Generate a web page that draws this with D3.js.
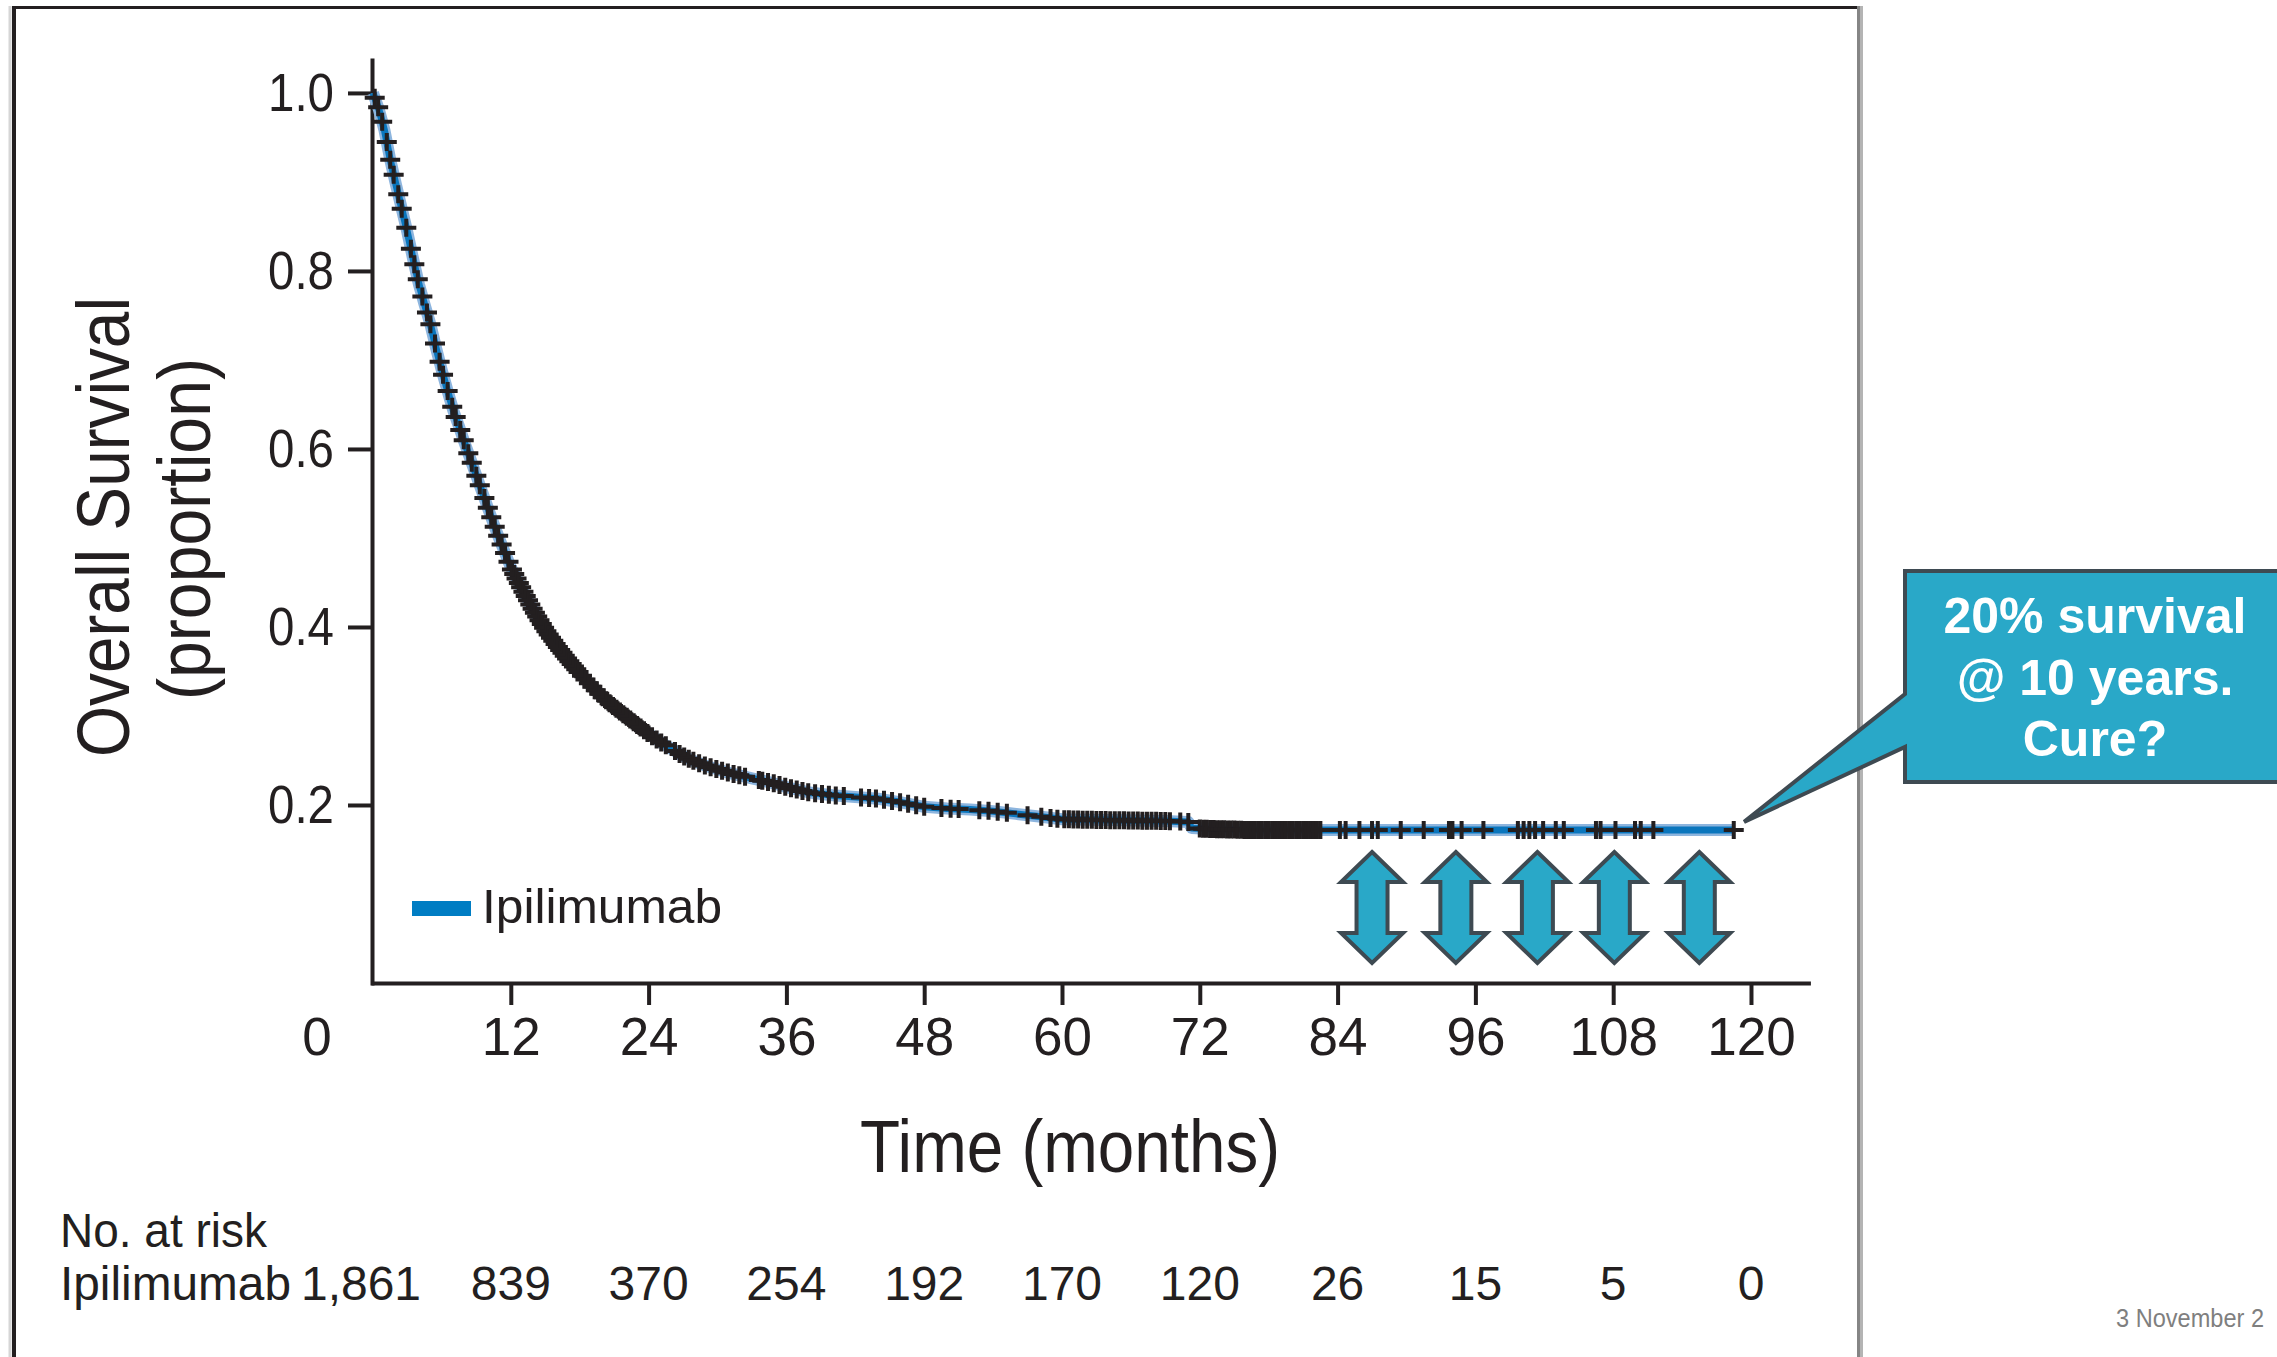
<!DOCTYPE html>
<html>
<head>
<meta charset="utf-8">
<script src="https://cdn.jsdelivr.net/npm/d3@7"></script>
<style>
  html, body { margin: 0; padding: 0; background: #ffffff; overflow: hidden; }
  svg { display: block; font-family: "Liberation Sans", Arial, Helvetica, sans-serif; }
</style>
</head>
<body>
<svg id="chart" width="2277" height="1357"></svg>
<script>
// ---------------- DATA ----------------
// Kaplan-Meier curve (months, proportion surviving)
const curveTimes = [0, 0.5, 1.0, 1.5, 2.0, 2.5, 3.0, 3.5, 4.0, 4.5, 5.0, 5.5, 6.0, 6.5, 7.0, 7.5, 8.0, 8.5, 9.0, 9.5,
  10.0, 10.5, 11.0, 11.5, 12.0, 13.0, 14.0, 15.0, 16.0, 17.0, 18.0, 19.0, 20.0, 21.0, 22.0, 23.0, 24.0, 25.0, 26.0,
  27.0, 28.0, 29.0, 30.0, 31.0, 32.0, 33.0, 34.0, 35.0, 36.0, 38.0, 40.0, 42.0, 44.0, 46.0, 48.0, 50.0, 52.0, 54.0,
  56.0, 58.0, 60.0, 64.0, 69.0, 71.0, 71.3, 73.0, 76.0, 118.5];
const curveSurv = [1.000, 0.982, 0.958, 0.925, 0.897, 0.870, 0.843, 0.813, 0.785, 0.762, 0.740, 0.713, 0.688, 0.665,
  0.643, 0.625, 0.606, 0.588, 0.570, 0.552, 0.534, 0.516, 0.499, 0.483, 0.467, 0.442, 0.418, 0.397, 0.379, 0.363,
  0.348, 0.334, 0.321, 0.310, 0.300, 0.290, 0.280, 0.271, 0.263, 0.255, 0.249, 0.244, 0.240, 0.236, 0.233, 0.230,
  0.227, 0.224, 0.220, 0.214, 0.211, 0.209, 0.207, 0.203, 0.198, 0.196, 0.195, 0.193, 0.190, 0.187, 0.184, 0.183,
  0.182, 0.181, 0.174, 0.173, 0.172, 0.172];

// Censoring times (months), read from the "+" marks along the curve
const censorTimes = [
  0.15, 0.45, 0.8, 1.2, 1.5, 1.8, 2.2, 2.5, 2.9, 3.3, 3.6, 3.9, 4.3, 4.7, 5.0, 5.4, 5.8, 6.1, 6.5, 6.9, 7.2, 7.6,
  7.9, 8.3, 8.6, 9.0, 9.3, 9.7, 10.0, 10.3, 10.6, 10.9, 11.2, 11.5, 11.8,
  12.1, 12.3, 12.5, 12.7, 12.9, 13.1, 13.3, 13.5, 13.7, 13.9, 14.1, 14.3, 14.5, 14.7, 14.9, 15.1, 15.3, 15.5,
  15.7, 15.9, 16.1, 16.3, 16.5, 16.7, 16.9, 17.1, 17.3, 17.5, 17.7, 17.9, 18.2, 18.5, 18.8, 19.1, 19.4, 19.7,
  20.0, 20.3, 20.6, 20.9, 21.2, 21.5, 21.8, 22.1, 22.4, 22.7, 23.0, 23.3, 23.6, 23.9, 24.3, 24.7, 25.1, 25.5,
  26.3, 26.7, 27.1, 27.5, 27.9, 28.4, 28.9, 29.4, 29.9, 30.4, 30.9, 31.4, 31.9, 32.4, 33.6, 33.9, 34.4, 34.9,
  35.4, 35.9,
  36.4, 36.9, 37.4, 37.9, 38.5, 39.1, 39.7, 40.3, 41.0, 42.5, 43.2, 43.8, 44.5, 45.2, 45.9, 46.6, 47.3, 48.0,
  49.5, 50.3, 51.0, 52.8, 53.6, 54.4, 55.2, 57.0, 58.2, 59.0, 59.6,
  60.2, 60.6, 61.0, 61.4, 61.8, 62.2, 62.6, 63.0, 63.4, 63.8, 64.2, 64.6, 65.0, 65.4, 65.8, 66.2, 66.6, 67.0,
  67.4, 67.8, 68.2, 68.6, 69.0, 69.4, 70.3, 71.0,
  72.0, 72.3, 72.6, 72.9, 73.2, 73.5, 73.8, 74.1, 74.4, 74.7, 75.0, 75.3, 75.6, 75.9, 76.2, 76.5, 76.8, 77.1,
  77.4, 77.7, 78.0, 78.3, 78.6, 78.9, 79.2, 79.5, 79.8, 80.1, 80.4, 80.7, 81.0, 81.3, 81.6, 81.9, 82.2, 82.5,
  84.2, 84.7, 85.9, 87.0, 87.5, 89.5, 91.5, 93.7, 94.0, 94.8, 96.7, 99.7, 100.2, 100.7, 101.2, 101.9, 103.0,
  103.7, 106.5, 106.9, 108.2, 109.9, 110.4, 111.5, 118.5];

const xTickValues = [12, 24, 36, 48, 60, 72, 84, 96, 108, 120];
const yTickValues = [0.2, 0.4, 0.6, 0.8, 1.0];
const riskMonths = [0, 12, 24, 36, 48, 60, 72, 84, 96, 108, 120];
const riskCounts = ["1,861", "839", "370", "254", "192", "170", "120", "26", "15", "5", "0"];
const seriesName = "Ipilimumab";
const arrowMonths = [87.0, 94.3, 101.4, 108.1, 115.5];
const calloutLines = ["20% survival", "@ 10 years.", "Cure?"];
const calloutTip = [119.4, 0.181];

// ---------------- CHART ----------------
const ink = "#231f20";
const svg = d3.select("#chart");

const x = d3.scaleLinear().domain([0, 125]).range([373, 1808.4]);
const y = d3.scaleLinear().domain([0, 1.037]).range([983, 60]);

function survAt(t) {
  const i = d3.bisectRight(curveTimes, t);
  if (i <= 0) return curveSurv[0];
  if (i >= curveTimes.length) return curveSurv[curveSurv.length - 1];
  const t0 = curveTimes[i - 1], t1 = curveTimes[i];
  const f = (t - t0) / (t1 - t0);
  return curveSurv[i - 1] + f * (curveSurv[i] - curveSurv[i - 1]);
}

// Frame of the slide image
svg.append("line").attr("x1", 10).attr("x2", 10).attr("y1", 6).attr("y2", 1357)
  .attr("stroke", "#d6d6d6").attr("stroke-width", 3);
svg.append("line").attr("x1", 14).attr("x2", 14).attr("y1", 6).attr("y2", 1357)
  .attr("stroke", ink).attr("stroke-width", 4);
svg.append("line").attr("x1", 12).attr("x2", 1860).attr("y1", 7.5).attr("y2", 7.5)
  .attr("stroke", ink).attr("stroke-width", 3);
svg.append("line").attr("x1", 1858.5).attr("x2", 1858.5).attr("y1", 6).attr("y2", 1357)
  .attr("stroke", "#858585").attr("stroke-width", 3);
svg.append("line").attr("x1", 1861.5).attr("x2", 1861.5).attr("y1", 6).attr("y2", 1357)
  .attr("stroke", "#b4b4b4").attr("stroke-width", 3);

// Axes
const yAxis = d3.axisLeft(y).tickValues(yTickValues).tickFormat(d3.format(".1f"))
  .tickSize(24).tickSizeOuter(0).tickPadding(14);
const gy = svg.append("g").attr("transform", "translate(372,0)").call(yAxis);
gy.select(".domain").attr("stroke", ink).attr("stroke-width", 4).attr("stroke-linecap", "square");
gy.selectAll(".tick line").attr("stroke", ink).attr("stroke-width", 4);
gy.selectAll(".tick text").attr("fill", ink).attr("font-size", 54)
  .attr("font-family", "'Liberation Sans', Arial, sans-serif").attr("dy", "0.33em")
  .attr("textLength", 66).attr("lengthAdjust", "spacingAndGlyphs");

const xAxis = d3.axisBottom(x).tickValues(xTickValues).tickSize(22).tickSizeOuter(0);
const gx = svg.append("g").attr("transform", "translate(0,983)").call(xAxis);
gx.select(".domain").attr("stroke", ink).attr("stroke-width", 4).attr("stroke-linecap", "square");
gx.selectAll(".tick line").attr("stroke", ink).attr("stroke-width", 4);
gx.selectAll(".tick text").attr("fill", ink).attr("font-size", 53)
  .attr("font-family", "'Liberation Sans', Arial, sans-serif").attr("y", 72).attr("dy", 0);

// "0" label at the origin (no tick mark)
svg.append("text").attr("x", x(0) - 56).attr("y", 1055).attr("text-anchor", "middle")
  .attr("font-size", 53).attr("fill", ink).text("0");

// Axis titles
svg.append("text").attr("x", 1070).attr("y", 1172).attr("text-anchor", "middle")
  .attr("font-size", 75).attr("fill", ink)
  .attr("textLength", 420).attr("lengthAdjust", "spacingAndGlyphs").text("Time (months)");
svg.append("text").attr("transform", "translate(129,527) rotate(-90)").attr("text-anchor", "middle")
  .attr("font-size", 75).attr("fill", ink)
  .attr("textLength", 460).attr("lengthAdjust", "spacingAndGlyphs").text("Overall Survival");
svg.append("text").attr("transform", "translate(210,529) rotate(-90)").attr("text-anchor", "middle")
  .attr("font-size", 75).attr("fill", ink)
  .attr("textLength", 342).attr("lengthAdjust", "spacingAndGlyphs").text("(proportion)");

// Survival curve
const pts = curveTimes.map((t, i) => [t, curveSurv[i]]);
const line = d3.line().x(d => x(d[0])).y(d => y(d[1])).curve(d3.curveLinear);
svg.append("path").datum(pts).attr("d", line).attr("fill", "none")
  .attr("stroke", "#8db5de").attr("stroke-width", 12).attr("stroke-linejoin", "round");
svg.append("path").datum(pts).attr("d", line).attr("fill", "none")
  .attr("stroke", "#0a76bd").attr("stroke-width", 7).attr("stroke-linejoin", "round");

// Censor marks
svg.append("g").selectAll("path").data(censorTimes).join("path")
  .attr("transform", t => `translate(${x(t)},${y(survAt(t))})`)
  .attr("d", "M-10,0H10M0,-9V9")
  .attr("stroke", ink).attr("stroke-width", 4).attr("fill", "none");

// Legend
svg.append("rect").attr("x", 412).attr("y", 901).attr("width", 59).attr("height", 15).attr("fill", "#007dc3");
svg.append("text").attr("x", 482).attr("y", 923).attr("font-size", 48).attr("fill", ink)
  .attr("textLength", 240).attr("lengthAdjust", "spacingAndGlyphs").text(seriesName);

// Number at risk table
svg.append("text").attr("x", 60).attr("y", 1247).attr("font-size", 48).attr("fill", ink)
  .attr("textLength", 207).attr("lengthAdjust", "spacingAndGlyphs").text("No. at risk");
svg.append("text").attr("x", 60).attr("y", 1300).attr("font-size", 48).attr("fill", ink)
  .attr("textLength", 231).attr("lengthAdjust", "spacingAndGlyphs").text(seriesName);
svg.append("g").selectAll("text").data(riskMonths).join("text")
  .attr("x", (m, i) => x(m) - (i === 0 ? 12 : 0)).attr("y", 1300)
  .attr("text-anchor", "middle").attr("font-size", 48).attr("fill", ink)
  .text((m, i) => riskCounts[i]);

// Double-headed arrows
const arrowFill = "#29a8c8", arrowStroke = "#3e4a52";
svg.append("g").selectAll("path").data(arrowMonths).join("path")
  .attr("d", m => {
    const cx = x(m), hw = 31, sw = 15.5, top = 852, hb = 882, bb = 933, bot = 963;
    return `M${cx},${top}L${cx + hw},${hb}L${cx + sw},${hb}L${cx + sw},${bb}L${cx + hw},${bb}` +
      `L${cx},${bot}L${cx - hw},${bb}L${cx - sw},${bb}L${cx - sw},${hb}L${cx - hw},${hb}Z`;
  })
  .attr("fill", arrowFill).attr("stroke", arrowStroke).attr("stroke-width", 4).attr("stroke-linejoin", "miter");

// Callout
const tipX = x(calloutTip[0]), tipY = y(calloutTip[1]);
svg.append("path")
  .attr("d", `M1905,571L2290,571L2290,782L1905,782L1905,747L${tipX},${tipY}L1905,694Z`)
  .attr("fill", arrowFill).attr("stroke", arrowStroke).attr("stroke-width", 4).attr("stroke-linejoin", "miter");
svg.append("g").selectAll("text").data(calloutLines).join("text")
  .attr("x", 2095).attr("y", (d, i) => 633 + i * 61.5).attr("text-anchor", "middle")
  .attr("font-size", 50).attr("font-weight", "bold").attr("fill", "#ffffff").text(d => d);

// Footer
svg.append("text").attr("x", 2116).attr("y", 1327).attr("font-size", 25).attr("fill", "#7f7f7f")
  .attr("textLength", 148).attr("lengthAdjust", "spacingAndGlyphs").text("3 November 2");
</script>
</body>
</html>
